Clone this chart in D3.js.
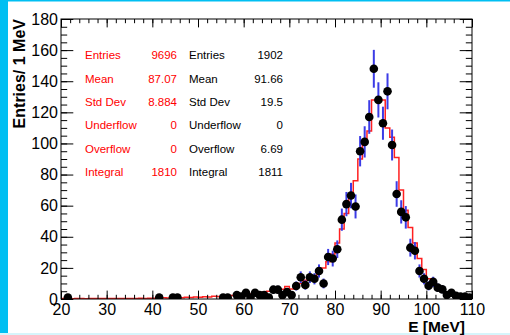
<!DOCTYPE html>
<html><head><meta charset="utf-8">
<script src="https://cdn.jsdelivr.net/npm/d3@7"></script>
<style>html,body{margin:0;padding:0;background:#fff;}svg{display:block;}</style>
</head><body>
<script>
// ---- data ----
const binLow = d3.range(20, 110, 1); // bin lower edges, 1 MeV bins
const refCounts = [
  0.3,0.3,0.2,0.3,0.3,0.2,0.3,0.3,0.3,0.3,
  0.3,0.3,0.4,0.3,0.4,0.4,0.4,0.5,0.4,0.5,
  0.5,0.6,0.8,0.6,0.9,1.0,0.8,1.2,1.0,1.3,
  1.2,1.5,1.3,1.8,1.6,2.0,1.8,2.2,2.5,2.6,
  3.0,3.2,3.6,4.0,4.4,5.0,5.5,5.2,6.2,8.0,
  6.5,9,10,12,13,15,17,20,24,29,
  36,45,55,66,76,90,100,108,128,128,
  128,110,104,91,70,57,46,36,26,19,
  13,10,8,6,4,3,2,1.3,0.8,0.5
];
const dataE = [21.5,41.5,44.5,45.5,55.5,56.5,58.5,59.5,60.5,61.5,62.5,63.5,64.5,65.5,66.5,67.5,68.5,69.5,70.5,71.5,72.5,73.5,74.5,75.5,76.5,77.5,78.5,79.5,80.5,81.5,82.5,83.5,84.5,85.5,86.5,87.5,88.5,89.5,90.5,91.5,92.5,93.5,94.5,95.5,96.5,97.5,98.5,99.5,100.5,101.5,102.5,103.5,104.5,105.5,106.5,107.5,108.5,109.5];
const dataN = [1,1,1,1,1,1,2.5,1.5,4,1,4,2.5,2.5,1,6,6,2.5,4.5,2.5,8.4,14,9,14,13,18,10,27,26,32,51,61,66.5,59.5,95,101,117,148,128,113,133.5,99,67.5,56,52.5,33,31,18,13,8.5,11,7.3,6.2,2.6,4,2,1.5,1.5,1];
const xTicks = [20,30,40,50,60,70,80,90,100,110];
const yTicks = [0,20,40,60,80,100,120,140,160,180];
const statLabels = ["Entries","Mean","Std Dev","Underflow","Overflow","Integral"];
const statsRed = ["9696","87.07","8.884","0","0","1810"];
const statsBlack = ["1902","91.66","19.5","0","6.69","1811"];

// ---- layout ----
const W = 510, H = 335;
const L = 61, R = 472, T = 19, B = 299;
const svg = d3.select("body").append("svg").attr("width", W).attr("height", H);
svg.append("rect").attr("width", W).attr("height", H).attr("fill", "#d6f5fb");
svg.append("rect").attr("x", 0).attr("y", 0).attr("width", W).attr("height", 333).attr("fill", "#00bff2");
svg.append("rect").attr("x", 8).attr("y", 1.5).attr("width", W - 8).attr("height", 331.5).attr("fill", "#fff");

const x = d3.scaleLinear().domain([20, 110]).range([L, R]);
const y = d3.scaleLinear().domain([0, 180]).range([B, T]);
const font = "'Liberation Sans', Arial, Helvetica, sans-serif";

svg.append("clipPath").attr("id", "clip").append("rect")
  .attr("x", L).attr("y", T).attr("width", R - L).attr("height", B - T);
const plot = svg.append("g").attr("clip-path", "url(#clip)");

// reference histogram (red step)
const stepPts = [[x(binLow[0]), y(0)]];
binLow.forEach((b, i) => {
  stepPts.push([x(b), y(refCounts[i])]);
  stepPts.push([x(b + 1), y(refCounts[i])]);
});
stepPts.push([x(binLow[binLow.length - 1] + 1), y(0)]);
plot.append("path").attr("d", d3.line()(stepPts))
  .attr("fill", "none").attr("stroke", "#ff2020").attr("stroke-width", 1.5);

// error bars (blue)
plot.selectAll("line.err").data(dataE).join("line").attr("class", "err")
  .attr("x1", d => x(d)).attr("x2", d => x(d))
  .attr("y1", (d, i) => y(dataN[i] + Math.sqrt(dataN[i])))
  .attr("y2", (d, i) => y(Math.max(0, dataN[i] - Math.sqrt(dataN[i]))))
  .attr("stroke", "#3c3ce6").attr("stroke-width", 2);

// data points
plot.selectAll("circle.pt").data(dataE).join("circle").attr("class", "pt")
  .attr("cx", d => x(d)).attr("cy", (d, i) => y(dataN[i])).attr("r", 4.3)
  .attr("fill", "#000");

// axes
const xMinor = d3.range(20, 110.01, 2);
const yMinor = d3.range(0, 180.01, 5);
function styleAxis(g) {
  g.select(".domain").remove();
  g.selectAll("line").attr("stroke", "#000").attr("stroke-width", 1);
  g.selectAll("text").attr("font-family", font).attr("font-size", 16).attr("fill", "#000");
}
// bottom
svg.append("g").attr("transform", `translate(0,${B})`)
  .call(d3.axisBottom(x).tickValues(xMinor).tickSize(-4.2).tickFormat(""))
  .call(styleAxis);
svg.append("g").attr("transform", `translate(0,${B})`)
  .call(d3.axisBottom(x).tickValues(xTicks).tickSize(-8.4).tickPadding(5).tickFormat(d3.format("d")))
  .call(styleAxis);
// top
svg.append("g").attr("transform", `translate(0,${T})`)
  .call(d3.axisTop(x).tickValues(xMinor).tickSize(-4.2).tickFormat(""))
  .call(styleAxis);
svg.append("g").attr("transform", `translate(0,${T})`)
  .call(d3.axisTop(x).tickValues(xTicks).tickSize(-8.4).tickFormat(""))
  .call(styleAxis);
// left
svg.append("g").attr("transform", `translate(${L},0)`)
  .call(d3.axisLeft(y).tickValues(yMinor).tickSize(-6.2).tickFormat(""))
  .call(styleAxis);
svg.append("g").attr("transform", `translate(${L},0)`)
  .call(d3.axisLeft(y).tickValues(yTicks).tickSize(-12.3).tickPadding(3).tickFormat(d3.format("d")))
  .call(styleAxis);
// right
svg.append("g").attr("transform", `translate(${R},0)`)
  .call(d3.axisRight(y).tickValues(yMinor).tickSize(-6.2).tickFormat(""))
  .call(styleAxis);
svg.append("g").attr("transform", `translate(${R},0)`)
  .call(d3.axisRight(y).tickValues(yTicks).tickSize(-12.3).tickFormat(""))
  .call(styleAxis);

// frame
svg.append("rect").attr("x", L).attr("y", T).attr("width", R - L).attr("height", B - T)
  .attr("fill", "none").attr("stroke", "#000").attr("stroke-width", 1);

// axis titles
svg.append("text").attr("x", 465).attr("y", 331.5).attr("text-anchor", "end")
  .attr("font-family", font).attr("font-size", 15.5).attr("font-weight", "bold").text("E [MeV]");
svg.append("text").attr("transform", `translate(25,${T}) rotate(-90)`).attr("text-anchor", "end")
  .attr("font-family", font).attr("font-size", 16).attr("font-weight", "bold").text("Entries/ 1 MeV");

// stats
const rowY = i => 55.3 + i * 23.3;
const st = svg.append("g").attr("font-family", font).attr("font-size", 11.5);
statLabels.forEach((lab, i) => {
  st.append("text").attr("x", 85).attr("y", rowY(i)).attr("dy", "0.36em").attr("fill", "#ff0000").text(lab);
  st.append("text").attr("x", 177).attr("y", rowY(i)).attr("dy", "0.36em").attr("text-anchor", "end").attr("fill", "#ff0000").text(statsRed[i]);
  st.append("text").attr("x", 189).attr("y", rowY(i)).attr("dy", "0.36em").attr("fill", "#000").text(lab);
  st.append("text").attr("x", 283).attr("y", rowY(i)).attr("dy", "0.36em").attr("text-anchor", "end").attr("fill", "#000").text(statsBlack[i]);
});
</script>
</body></html>
